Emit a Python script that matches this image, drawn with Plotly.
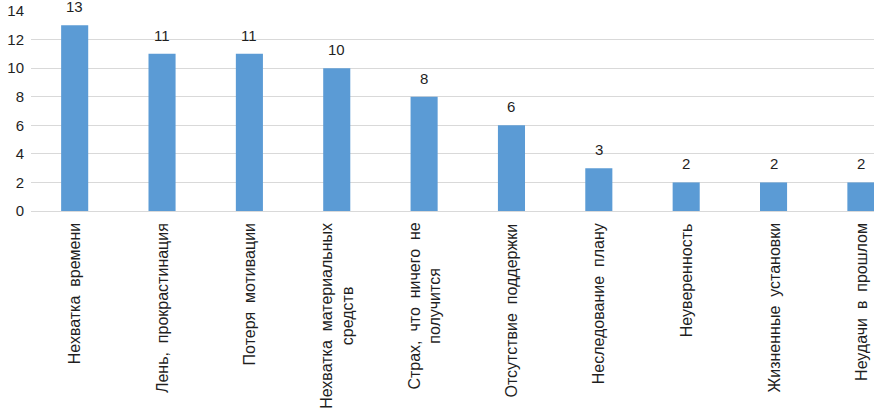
import plotly.graph_objects as go

categories = [
    "Нехватка  времени",
    "Лень,  прокрастинация",
    "Потеря  мотивации",
    "Нехватка  материальных<br>средств",
    "Страх,  что  ничего  не<br>получится",
    "Отсутствие  поддержки",
    "Неследование  плану",
    "Неуверенность",
    "Жизненные  установки",
    "Неудачи  в  прошлом",
]
values = [13, 11, 11, 10, 8, 6, 3, 2, 2, 2]
y_ticks = [0, 2, 4, 6, 8, 10, 12, 14]

FONT = "Liberation Sans, Arial, sans-serif"
TXT = "#1f1f1f"

fig = go.Figure(go.Bar(
    x=list(range(len(categories))),
    y=values,
    marker=dict(color="#5b9bd5", line=dict(width=0)),
    width=0.31,
    hoverinfo="skip",
))

annotations = []
for i, (c, v) in enumerate(zip(categories, values)):
    annotations.append(dict(
        x=i, y=v, xref="x", yref="y", text=str(v), showarrow=False,
        yanchor="bottom", yshift=8, font=dict(family=FONT, size=15, color=TXT),
    ))
    annotations.append(dict(
        x=i, y=0, xref="x", yref="y", text=c, showarrow=False,
        textangle=-90, align="center", yanchor="top", xanchor="center", yshift=-10,
        font=dict(family=FONT, size=16, color=TXT),
    ))

fig.update_layout(
    width=874, height=409,
    margin=dict(l=31, r=0, t=11, b=198, autoexpand=False),
    paper_bgcolor="white", plot_bgcolor="white",
    showlegend=False,
    annotations=annotations,
    xaxis=dict(range=[-0.5, 9.15], showticklabels=False, showgrid=False, automargin=False,
               zeroline=False, showline=False, fixedrange=True),
    yaxis=dict(range=[0, 14], tickvals=y_ticks, showgrid=True, gridcolor="#d9d9d9",
               gridwidth=1, zeroline=True, zerolinecolor="#d9d9d9", zerolinewidth=1,
               showline=False, ticks="", ticklabelstandoff=6, automargin=False,
               ticklabeloverflow="allow", fixedrange=True,
               tickfont=dict(family=FONT, size=15, color=TXT)),
)

fig.write_html("out.html", config={"displayModeBar": False},
               post_script="document.body.style.margin='0';")
